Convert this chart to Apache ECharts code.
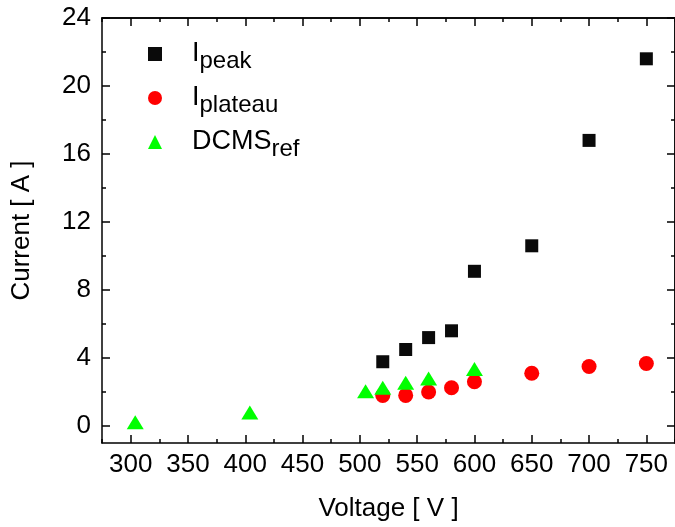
<!DOCTYPE html>
<html>
<head>
<meta charset="utf-8">
<script src="https://cdn.jsdelivr.net/npm/echarts@6/dist/echarts.min.js"></script>
<style>
  html, body { margin: 0; padding: 0; background: #fff; }
  #chart { width: 675px; height: 527px; }
</style>
</head>
<body>
<div id="chart"></div>
<script>
// data
const peakVoltage = [520, 540, 560, 580, 600, 650, 700, 750];
const peakCurrent = [3.78, 4.5, 5.2, 5.6, 9.1, 10.6, 16.8, 21.6];

const plateauVoltage = [520, 540, 560, 580, 600, 650, 700, 750];
const plateauCurrent = [1.8, 1.8, 2.0, 2.25, 2.6, 3.1, 3.5, 3.68];

const dcmsVoltage = [304, 404, 505, 520, 540, 560, 600];
const dcmsCurrent = [0.22, 0.8, 2.05, 2.25, 2.55, 2.8, 3.35];

const xTicks = [300, 350, 400, 450, 500, 550, 600, 650, 700, 750];
const xMinorTicks = [275, 325, 375, 425, 475, 525, 575, 625, 675, 725, 775];
const yTicks = [0, 4, 8, 12, 16, 20, 24];
const yMinorTicks = [2, 6, 10, 14, 18, 22];

const FONT = "Liberation Sans, Arial, sans-serif";
const chart = echarts.init(document.getElementById("chart"));

const pair = (xs, ys) => xs.map((x, i) => [x, ys[i]]);

const lineStyle = { color: "#000", width: 1.5 };

// one axis per tick set, stacked on the same side
const makeX = (position, ticks, len, main) => ({
  type: "value",
  position: position,
  min: 275,
  max: 775,
  name: main ? "Voltage [ V ]" : "",
  nameLocation: "middle",
  nameGap: 53,
  nameTextStyle: { fontFamily: FONT, fontSize: 26, color: "#000" },
  axisLine: { show: main || position === "top", onZero: false, lineStyle: lineStyle },
  axisTick: { show: true, inside: true, length: len, customValues: ticks, lineStyle: lineStyle },
  axisLabel: {
    show: main,
    customValues: xTicks,
    margin: 9,
    fontFamily: FONT,
    fontSize: 26,
    color: "#000",
  },
  splitLine: { show: false },
});

const makeY = (position, ticks, len, main) => ({
  type: "value",
  position: position,
  min: -1,
  max: 24,
  name: main ? "Current [ A ]" : "",
  nameLocation: "middle",
  nameGap: 67,
  nameRotate: 90,
  nameTextStyle: { fontFamily: FONT, fontSize: 26, color: "#000" },
  axisLine: { show: main || position === "right", onZero: false, lineStyle: lineStyle },
  axisTick: { show: true, inside: true, length: len, customValues: ticks, lineStyle: lineStyle },
  axisLabel: {
    show: main,
    customValues: yTicks,
    margin: 11,
    fontFamily: FONT,
    fontSize: 26,
    color: "#000",
  },
  splitLine: { show: false },
});

const legendNames = {
  Ipeak: "{main|I}{sub|peak}",
  Iplateau: "{main|I}{sub|plateau}",
  DCMSref: "{main|DCMS}{sub|ref}",
};

const option = {
  animation: false,
  backgroundColor: "#fff",
  grid: { left: 102, right: -5, top: 18, bottom: 84 },
  legend: {
    orient: "vertical",
    left: 143,
    top: 30,
    itemGap: 6,
    itemWidth: 14,
    itemHeight: 14,
    data: ["Ipeak", "Iplateau", "DCMSref"],
    formatter: (name) => legendNames[name],
    textStyle: {
      fontFamily: FONT,
      color: "#000",
      rich: {
        main: { fontFamily: FONT, fontSize: 27, color: "#000", padding: [0, 0, 0, 25], lineHeight: 30 },
        sub: { fontFamily: FONT, fontSize: 24, color: "#000", padding: [14, 0, 0, 0], lineHeight: 30 },
      },
    },
  },
  xAxis: [
    makeX("bottom", xTicks, 8, true),
    makeX("bottom", xMinorTicks, 4, false),
    makeX("top", xTicks, 8, false),
    makeX("top", xMinorTicks, 4, false),
  ],
  yAxis: [
    makeY("left", yTicks, 8, true),
    makeY("left", yMinorTicks, 4, false),
    makeY("right", yTicks, 8, false),
    makeY("right", yMinorTicks, 4, false),
  ],
  series: [
    {
      name: "Ipeak",
      type: "scatter",
      symbol: "rect",
      symbolSize: 13,
      itemStyle: { color: "#0a0a0a", opacity: 1 },
      data: pair(peakVoltage, peakCurrent),
    },
    {
      name: "Iplateau",
      type: "scatter",
      symbol: "circle",
      symbolSize: 15,
      itemStyle: { color: "#ff0000", opacity: 1 },
      data: pair(plateauVoltage, plateauCurrent),
    },
    {
      name: "DCMSref",
      type: "scatter",
      symbol: "triangle",
      symbolSize: [17, 14],
      itemStyle: { color: "#00ff00", opacity: 1 },
      data: pair(dcmsVoltage, dcmsCurrent),
    },
  ],
};

chart.setOption(option);
</script>
</body>
</html>
